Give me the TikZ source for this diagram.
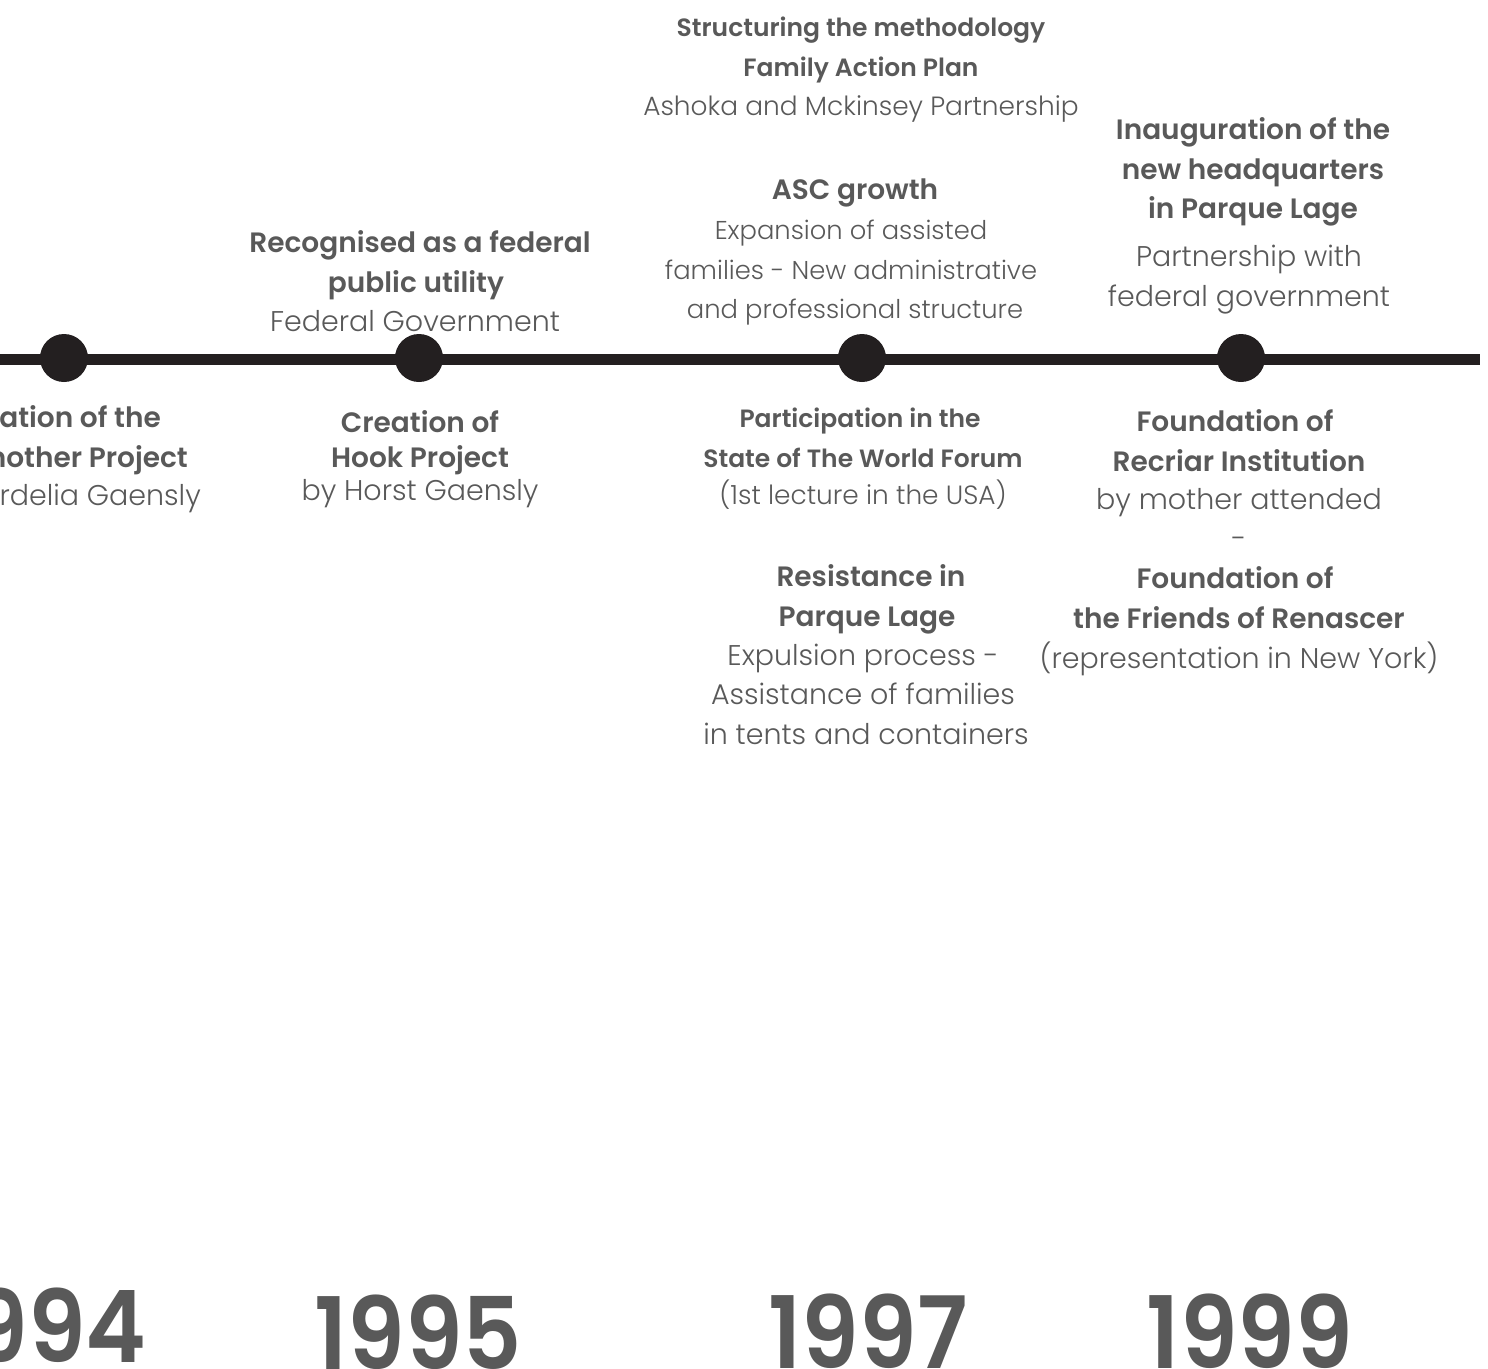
\documentclass[tikz,border=0pt]{standalone}
\usepackage{fontspec}
\setmainfont{Poppins}
\newfontfamily\lfnt{Poppins Light}
\newfontfamily\bfnt{Poppins SemiBold}
\newfontfamily\yfnt{Poppins SemiBold}[FakeStretch=0.92]
\definecolor{txt}{HTML}{595959}
\definecolor{ln}{HTML}{231F20}
\begin{document}
\begin{tikzpicture}[x=1pt,y=-1pt,
  every node/.style={inner sep=0pt, text=txt, anchor=base},
  hb/.style={font=\bfnt\fontsize{28}{28}\selectfont},
  sb/.style={font=\bfnt\fontsize{25}{25}\selectfont},
  lt/.style={font=\lfnt\fontsize{28.5}{28.5}\selectfont},
  lm/.style={font=\lfnt\fontsize{25.8}{25.8}\selectfont},
  ls/.style={font=\lfnt\fontsize{26.4}{26.4}\selectfont},
  yr/.style={font=\yfnt\fontsize{100}{100}\selectfont},
  dot/.style={circle, fill=ln, minimum size=48pt, inner sep=0pt, anchor=center}]
\useasboundingbox (0,0) rectangle (1488,1368);
\clip (0,0) rectangle (1488,1368);
% timeline
\coordinate (L) at (0,359);
\coordinate (R) at (1480,359);
\draw[ln, line width=11pt] (L) -- (R);
\node[dot] (d94) at (64,358) {};
\node[dot] (d95) at (419,358) {};
\node[dot] (d97) at (862,358) {};
\node[dot] (d99) at (1241,358) {};
% top block 1997
\node[sb] (t1) at (861,36) {Structuring the methodology};
\node[sb] (t2) at (861,76) {Family Action Plan};
\node[ls] (t3) at (861,115) {Ashoka and Mckinsey Partnership};
% ASC growth
\node[hb] (a1) at (855,199) {ASC growth};
\node[lm] (a2) at (851,239) {Expansion of assisted};
\node[lm] (a3) at (851,279) {families - New administrative};
\node[lm] (a4) at (855,318) {and professional structure};
% 1995 above
\node[hb] (r1) at (420,252) {Recognised as a federal};
\node[hb] (r2) at (416,292) {public utility};
\node[lt] (r3) at (415,331) {Federal Government};
% 1999 above
\node[hb] (i1) at (1253,139) {Inauguration of the};
\node[hb] (i2) at (1253,179) {new headquarters};
\node[hb] (i3) at (1253,218) {in Parque Lage};
\node[lt] (i4) at (1249,266) {Partnership with};
\node[lt] (i5) at (1249,306) {federal government};
% 1994 below (cut at left)
\node[hb, anchor=base east] (g1) at (161,427) {ation of the};
\node[hb, anchor=base east] (g2) at (188,467) {nother Project};
\node[lt, anchor=base east] (g3) at (201,505) {rdelia Gaensly};
% 1995 below
\node[hb] (c1) at (420,432) {Creation of};
\node[hb] (c2) at (420,467) {Hook Project};
\node[lt] (c3) at (420,500) {by Horst Gaensly};
% 1997 below
\node[sb] (p1) at (860,427) {Participation in the};
\node[sb] (p2) at (863,467) {State of The World Forum};
\node[ls] (p3) at (863,504) {(1st lecture in the USA)};
\node[hb] (s1) at (871,586) {Resistance in};
\node[hb] (s2) at (867,626) {Parque Lage};
\node[lt] (s3) at (863,665) {Expulsion process -};
\node[lt] (s4) at (863,704) {Assistance of families};
\node[lt] (s5) at (866,744) {in tents and containers};
% 1999 below
\node[hb] (f1) at (1235,431) {Foundation of};
\node[hb] (f2) at (1239,471) {Recriar Institution};
\node[lt] (f3) at (1239,509) {by mother attended};
\node[lt] (f4) at (1239,548) {-};
\node[hb] (f5) at (1235,588) {Foundation of};
\node[hb] (f6) at (1239,628) {the Friends of Renascer};
\node[lt] (f7) at (1239,668) {(representation in New York)};
% years
\node[yr, anchor=base east] (y94) at (147,1362) {1994};
\node[yr] (y95) at (418,1369) {1995};
\node[yr] (y97) at (868,1368) {1997};
\node[yr] (y99) at (1250,1368) {1999};
\end{tikzpicture}
\end{document}
